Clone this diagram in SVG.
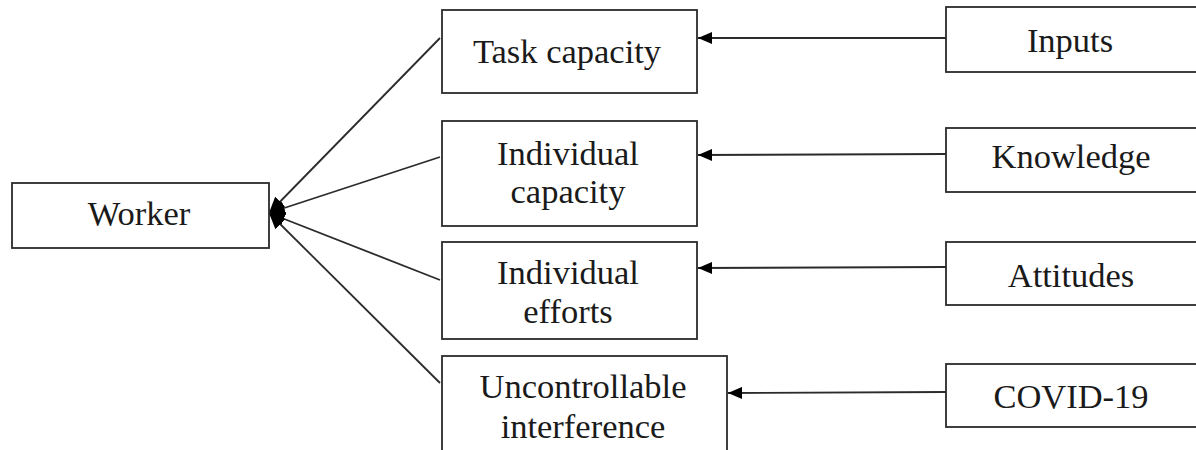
<svg xmlns="http://www.w3.org/2000/svg" width="1196" height="450" viewBox="0 0 1196 450">
<style>
.box{fill:#fff;stroke:#2b2b2b;stroke-width:1.8}
.lbl{font-family:"Liberation Serif","Times New Roman",serif;font-size:34.5px;fill:#1a1a1a;text-anchor:middle}
.con{stroke:#2b2b2b;stroke-width:1.8;fill:none;marker-end:url(#ah)}
.con2{stroke:#2b2b2b;stroke-width:1.8;fill:none;marker-end:url(#ah2)}
</style>
<defs>
<marker id="ah" viewBox="0 0 14 12" refX="14" refY="6" markerWidth="14" markerHeight="12" markerUnits="userSpaceOnUse" orient="auto">
<path d="M0,0 L14,6 L0,12 Z" fill="#000"/>
</marker>
<marker id="ah2" viewBox="0 0 16 14" refX="16" refY="7" markerWidth="16" markerHeight="14" markerUnits="userSpaceOnUse" orient="auto">
<path d="M0,0 L16,7 L0,14 Z" fill="#000"/>
</marker>
</defs>
<g id="connectors">
<line class="con2" x1="440" y1="38" x2="269" y2="213"/>
<line class="con2" x1="440" y1="157" x2="269" y2="213"/>
<line class="con2" x1="440" y1="280" x2="269" y2="213"/>
<line class="con2" x1="440" y1="383" x2="269" y2="213"/>
<line class="con" x1="946" y1="38" x2="698" y2="38"/>
<line class="con" x1="946" y1="154" x2="698" y2="155"/>
<line class="con" x1="946" y1="267" x2="698" y2="268"/>
<line class="con" x1="946" y1="392" x2="728" y2="393"/>
</g>
<g id="worker">
<rect class="box" x="12" y="183" width="257" height="65"/>
<text class="lbl" x="139" y="225">Worker</text>
</g>
<g id="task-capacity">
<rect class="box" x="442" y="10" width="255" height="83"/>
<text class="lbl" x="567" y="63">Task capacity</text>
</g>
<g id="individual-capacity">
<rect class="box" x="442" y="121" width="255" height="105"/>
<text class="lbl" x="568" y="165">Individual</text>
<text class="lbl" x="568" y="203">capacity</text>
</g>
<g id="individual-efforts">
<rect class="box" x="442" y="242" width="255" height="97"/>
<text class="lbl" x="568" y="284">Individual</text>
<text class="lbl" x="568" y="323">efforts</text>
</g>
<g id="uncontrollable-interference">
<rect class="box" x="442" y="356" width="285" height="110"/>
<text class="lbl" x="583" y="398">Uncontrollable</text>
<text class="lbl" x="583" y="438">interference</text>
</g>
<g id="inputs">
<rect class="box" x="946" y="7" width="254" height="65"/>
<text class="lbl" x="1070" y="52">Inputs</text>
</g>
<g id="knowledge">
<rect class="box" x="946" y="128" width="254" height="64"/>
<text class="lbl" x="1071" y="168">Knowledge</text>
</g>
<g id="attitudes">
<rect class="box" x="946" y="242" width="254" height="63"/>
<text class="lbl" x="1071" y="287">Attitudes</text>
</g>
<g id="covid-19">
<rect class="box" x="946" y="364" width="254" height="63"/>
<text class="lbl" x="1071" y="408">COVID-19</text>
</g>
</svg>
